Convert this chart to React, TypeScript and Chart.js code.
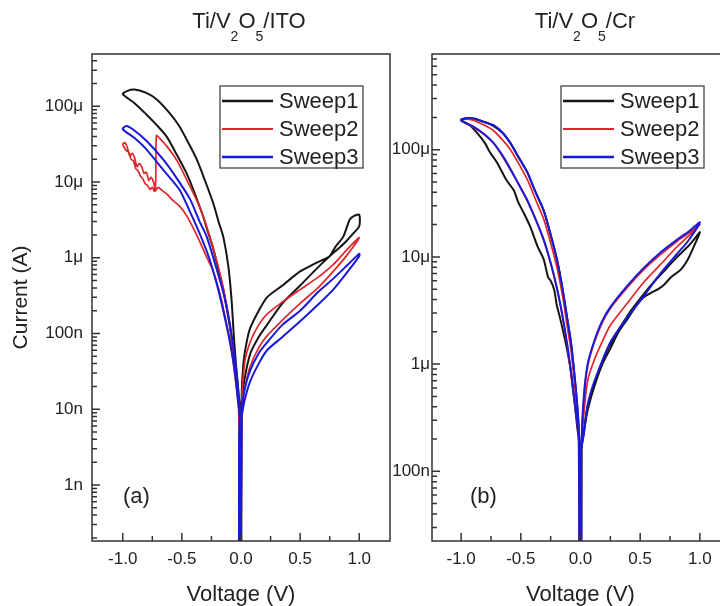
import React, { useEffect, useRef } from "react";
import { Chart, registerables } from "chart.js";

Chart.register(...registerables);

const FONT = "'Liberation Sans', Arial, Helvetica, sans-serif";
const TEXT = "#222222";

// ---------- shared axis data ----------
const seriesLabels = ["Sweep1", "Sweep2", "Sweep3"];
const xTickValues = [-1, -0.5, 0, 0.5, 1];
const xTickLabels = ["-1.0", "-0.5", "0.0", "0.5", "1.0"];
const xMinorValues = [-0.75, -0.25, 0.25, 0.75];

// ---------- panel (a) Ti/V2O5/ITO : [voltage (V), |current| (A)] ----------
const aYTickValues = [1e-9, 1e-8, 1e-7, 1e-6, 1e-5, 1e-4];
const aYTickLabels = ["1n", "10n", "100n", "1μ", "10μ", "100μ"];

const aSweep1: [number, number][] = [
  [-0.014, 1e-11], [-0.012, 4e-9], [-0.01, 1.0e-8], [-0.03, 2.0e-8], [-0.06, 5.0e-8],
  [-0.1, 1.4e-7], [-0.15, 3.8e-7], [-0.2, 8.0e-7], [-0.24, 1.4e-6], [-0.28, 2.2e-6],
  [-0.32, 3.5e-6], [-0.39, 7.0e-6], [-0.46, 1.3e-5], [-0.55, 2.4e-5], [-0.63, 4.0e-5],
  [-0.72, 5.8e-5], [-0.8, 7.8e-5], [-0.9, 1.1e-4], [-1.0, 1.45e-4], [-0.96, 1.6e-4],
  [-0.9, 1.66e-4], [-0.8, 1.5e-4], [-0.71, 1.22e-4], [-0.6, 8.0e-5], [-0.52, 5.4e-5],
  [-0.45, 3.4e-5], [-0.375, 2.0e-5], [-0.3, 1.0e-5], [-0.234, 5.2e-6], [-0.19, 3.0e-6],
  [-0.15, 1.9e-6], [-0.107, 7.7e-7], [-0.08, 2.8e-7], [-0.06, 9e-8], [-0.04, 3.5e-8],
  [-0.02, 1.5e-8], [-0.01, 1.1e-8], [-0.012, 1e-11], [0.002, 1e-11], [0.004, 1.2e-8],
  [0.02, 4.0e-8], [0.05, 8.0e-8], [0.08, 1.2e-7], [0.15, 2.0e-7], [0.22, 3.0e-7],
  [0.35, 4.3e-7], [0.5, 6.6e-7], [0.6, 8.0e-7], [0.7, 9.5e-7], [0.75, 1.05e-6],
  [0.8, 1.4e-6], [0.865, 1.9e-6], [0.92, 3.2e-6], [0.96, 3.6e-6], [1.0, 3.7e-6],
  [1.0, 2.6e-6], [0.95, 2.1e-6], [0.89, 1.65e-6], [0.82, 1.3e-6], [0.75, 1.05e-6],
  [0.67, 8.0e-7], [0.5, 4.3e-7], [0.35, 2.5e-7], [0.22, 1.3e-7], [0.15, 9.0e-8],
  [0.08, 5.5e-8], [0.03, 2.5e-8], [0.006, 1.2e-8], [0.003, 1e-11],
];

const aSweep2: [number, number][] = [
  [-0.006, 1e-11], [-0.008, 5e-9], [-0.012, 1.0e-8], [-0.03, 1.6e-8], [-0.06, 4.5e-8],
  [-0.093, 1.3e-7], [-0.15, 4.0e-7], [-0.205, 9.1e-7], [-0.28, 2.3e-6], [-0.35, 4.7e-6],
  [-0.45, 1.0e-5], [-0.54, 1.9e-5], [-0.63, 3.0e-5], [-0.69, 3.8e-5], [-0.715, 4.1e-5],
  [-0.72, 1.4e-5], [-0.725, 8.0e-6], [-0.74, 1.0e-5], [-0.76, 1.15e-5], [-0.78, 1.05e-5],
  [-0.8, 1.35e-5], [-0.82, 1.3e-5], [-0.84, 1.6e-5], [-0.86, 1.75e-5], [-0.88, 1.6e-5],
  [-0.9, 2.1e-5], [-0.92, 2.4e-5], [-0.94, 2.2e-5], [-0.96, 2.8e-5], [-0.98, 3.3e-5],
  [-1.0, 3.2e-5], [-0.99, 2.9e-5], [-0.97, 2.6e-5], [-0.95, 2.5e-5], [-0.93, 2.0e-5],
  [-0.91, 1.9e-5], [-0.89, 1.5e-5], [-0.87, 1.4e-5], [-0.85, 1.2e-5], [-0.83, 1.1e-5],
  [-0.81, 9.5e-6], [-0.79, 9.0e-6], [-0.77, 8.0e-6], [-0.75, 8.5e-6], [-0.73, 7.5e-6],
  [-0.7, 8.5e-6], [-0.67, 7.8e-6], [-0.63, 7.0e-6], [-0.58, 5.8e-6], [-0.52, 4.8e-6],
  [-0.46, 3.6e-6], [-0.375, 2.0e-6], [-0.3, 1.1e-6], [-0.234, 6.6e-7], [-0.17, 3.0e-7],
  [-0.12, 1.3e-7], [-0.08, 6e-8], [-0.05, 2.6e-8], [-0.02, 1.0e-8], [-0.008, 1e-11],
  [0.0, 1e-11], [0.004, 9e-9], [0.03, 4.0e-8], [0.076, 7.6e-8], [0.15, 1.3e-7],
  [0.22, 1.8e-7], [0.35, 2.6e-7], [0.5, 3.8e-7], [0.65, 5.5e-7], [0.78, 8.1e-7],
  [0.9, 1.3e-6], [1.0, 1.85e-6], [0.9, 1.1e-6], [0.78, 6.6e-7], [0.65, 4.0e-7],
  [0.5, 2.5e-7], [0.35, 1.5e-7], [0.22, 9.3e-8], [0.15, 6.5e-8], [0.076, 3.6e-8],
  [0.03, 1.8e-8], [0.006, 9e-9], [0.002, 1e-11],
];

const aSweep3: [number, number][] = [
  [-0.018, 1e-11], [-0.016, 4e-9], [-0.012, 8e-9], [-0.03, 1.5e-8], [-0.05, 3.0e-8],
  [-0.093, 7.6e-8], [-0.15, 2.0e-7], [-0.205, 4.5e-7], [-0.27, 1.0e-6], [-0.35, 2.1e-6],
  [-0.43, 4.0e-6], [-0.52, 7.9e-6], [-0.65, 1.4e-5], [-0.8, 2.7e-5], [-0.9, 3.8e-5],
  [-1.0, 5.0e-5], [-0.97, 5.5e-5], [-0.91, 4.9e-5], [-0.8, 3.5e-5], [-0.66, 2.0e-5],
  [-0.54, 1.1e-5], [-0.43, 5.9e-6], [-0.35, 3.0e-6], [-0.29, 1.9e-6], [-0.205, 7.0e-7],
  [-0.15, 3.5e-7], [-0.093, 1.3e-7], [-0.05, 4.5e-8], [-0.03, 2.4e-8], [-0.012, 1.0e-8],
  [-0.018, 1e-11], [-0.004, 1e-11], [0.0, 6e-9], [0.006, 8e-9], [0.03, 1.3e-8],
  [0.076, 2.3e-8], [0.15, 4.0e-8], [0.22, 6.0e-8], [0.35, 9.0e-8], [0.5, 1.45e-7],
  [0.65, 2.4e-7], [0.78, 3.8e-7], [0.9, 6.5e-7], [1.0, 1.05e-6], [1.0, 1.13e-6],
  [0.9, 8.0e-7], [0.78, 5.3e-7], [0.65, 3.5e-7], [0.5, 2.0e-7], [0.35, 1.3e-7],
  [0.22, 7.6e-8], [0.15, 5.5e-8], [0.076, 3.2e-8], [0.03, 1.8e-8], [0.006, 1.0e-8],
  [-0.002, 1e-11],
];

// ---------- panel (b) Ti/V2O5/Cr ----------
const bYTickValues = [1e-7, 1e-6, 1e-5, 1e-4];
const bYTickLabels = ["100n", "1μ", "10μ", "100μ"];

const bSweep1: [number, number][] = [
  [0.002, 1e-11], [-0.005, 1.0e-7], [-0.015, 2.0e-7], [-0.028, 2.6e-7], [-0.05, 4.5e-7],
  [-0.084, 9.1e-7], [-0.12, 1.5e-6], [-0.168, 2.6e-6], [-0.2, 3.6e-6], [-0.22, 4.9e-6],
  [-0.25, 6.0e-6], [-0.27, 6.4e-6], [-0.31, 9.6e-6], [-0.36, 1.25e-5], [-0.42, 1.9e-5],
  [-0.47, 2.5e-5], [-0.52, 3.2e-5], [-0.56, 4.2e-5], [-0.62, 5.2e-5], [-0.7, 7.6e-5],
  [-0.76, 9.5e-5], [-0.8, 1.15e-4], [-0.87, 1.45e-4], [-0.93, 1.7e-4], [-1.0, 1.9e-4],
  [-0.95, 1.97e-4], [-0.9, 1.95e-4], [-0.8, 1.8e-4], [-0.727, 1.66e-4], [-0.65, 1.42e-4],
  [-0.587, 1.15e-4], [-0.52, 8.5e-5], [-0.447, 6.2e-5], [-0.38, 4.1e-5], [-0.308, 2.7e-5],
  [-0.25, 1.6e-5], [-0.195, 9.2e-6], [-0.15, 5.0e-6], [-0.112, 2.7e-6], [-0.08, 1.6e-6],
  [-0.056, 9.1e-7], [-0.03, 4.5e-7], [-0.014, 2.3e-7], [0.0, 1e-11], [0.01, 1e-11],
  [0.006, 1.5e-7], [0.025, 2.2e-7], [0.06, 3.7e-7], [0.112, 6.0e-7], [0.18, 9.8e-7],
  [0.25, 1.4e-6], [0.32, 2.0e-6], [0.4, 2.7e-6], [0.475, 3.6e-6], [0.53, 4.2e-6],
  [0.587, 4.6e-6], [0.65, 5.0e-6], [0.7, 5.5e-6], [0.76, 6.5e-6], [0.84, 7.6e-6],
  [0.9, 9.5e-6], [0.95, 1.25e-5], [1.0, 1.7e-5], [0.95, 1.45e-5], [0.9, 1.25e-5],
  [0.81, 1.0e-5], [0.72, 7.8e-6], [0.6, 5.6e-6], [0.53, 4.5e-6], [0.4, 2.9e-6],
  [0.25, 1.55e-6], [0.18, 1.05e-6], [0.112, 6.4e-7], [0.06, 4.0e-7], [0.025, 2.3e-7],
  [0.008, 1.6e-7], [0.005, 1e-11],
];

const bSweep2: [number, number][] = [
  [0.004, 1e-11], [-0.005, 1.2e-7], [-0.015, 2.2e-7], [-0.042, 3.7e-7], [-0.112, 1.5e-6],
  [-0.195, 4.9e-6], [-0.308, 1.42e-5], [-0.447, 3.35e-5], [-0.587, 6.5e-5], [-0.727, 1.14e-4],
  [-0.85, 1.5e-4], [-1.0, 1.88e-4], [-0.95, 1.93e-4], [-0.9, 1.88e-4], [-0.8, 1.68e-4],
  [-0.727, 1.5e-4], [-0.65, 1.22e-4], [-0.587, 1.0e-4], [-0.52, 7.5e-5], [-0.447, 5.3e-5],
  [-0.38, 3.5e-5], [-0.308, 2.25e-5], [-0.25, 1.35e-5], [-0.195, 7.8e-6], [-0.15, 4.3e-6],
  [-0.112, 2.3e-6], [-0.08, 1.35e-6], [-0.056, 7.8e-7], [-0.03, 4.0e-7], [-0.014, 2.2e-7],
  [0.004, 1e-11], [0.006, 1.5e-7], [0.028, 3.4e-7], [0.06, 7.0e-7], [0.112, 1.07e-6],
  [0.18, 1.6e-6], [0.25, 2.3e-6], [0.4, 3.8e-6], [0.53, 5.8e-6], [0.67, 8.5e-6],
  [0.81, 1.25e-5], [0.9, 1.55e-5], [1.0, 2.0e-5], [0.9, 1.65e-5], [0.81, 1.4e-5],
  [0.67, 1.05e-5], [0.53, 7.6e-6], [0.4, 5.3e-6], [0.25, 3.3e-6], [0.18, 2.4e-6],
  [0.112, 1.55e-6], [0.06, 9.5e-7], [0.028, 4.8e-7], [0.008, 1.6e-7], [0.006, 1e-11],
];

const bSweep3: [number, number][] = [
  [0.006, 1e-11], [-0.003, 1.2e-7], [-0.01, 2.0e-7], [-0.042, 3.8e-7], [-0.08, 8.5e-7],
  [-0.112, 1.55e-6], [-0.15, 2.8e-6], [-0.195, 5.0e-6], [-0.25, 8.8e-6], [-0.308, 1.45e-5],
  [-0.38, 2.3e-5], [-0.447, 3.4e-5], [-0.52, 4.8e-5], [-0.587, 6.6e-5], [-0.65, 8.7e-5],
  [-0.727, 1.15e-4], [-0.8, 1.38e-4], [-0.9, 1.65e-4], [-1.0, 1.86e-4], [-0.97, 1.95e-4],
  [-0.93, 1.97e-4], [-0.88, 1.94e-4], [-0.8, 1.8e-4], [-0.727, 1.69e-4], [-0.65, 1.43e-4],
  [-0.587, 1.15e-4], [-0.52, 8.6e-5], [-0.447, 6.2e-5], [-0.38, 4.1e-5], [-0.308, 2.7e-5],
  [-0.25, 1.62e-5], [-0.195, 9.2e-6], [-0.15, 5.0e-6], [-0.112, 2.7e-6], [-0.08, 1.6e-6],
  [-0.056, 9.1e-7], [-0.03, 4.5e-7], [-0.014, 2.3e-7], [0.006, 1e-11], [0.008, 1.6e-7],
  [0.03, 2.3e-7], [0.06, 4.2e-7], [0.112, 6.7e-7], [0.18, 1.05e-6], [0.25, 1.6e-6],
  [0.4, 2.8e-6], [0.53, 4.3e-6], [0.67, 7.0e-6], [0.81, 1.07e-5], [0.9, 1.4e-5],
  [1.0, 2.1e-5], [0.9, 1.7e-5], [0.81, 1.45e-5], [0.67, 1.1e-5], [0.53, 7.9e-6],
  [0.4, 5.5e-6], [0.25, 3.4e-6], [0.18, 2.5e-6], [0.112, 1.6e-6], [0.06, 1.0e-6],
  [0.028, 5.0e-7], [0.008, 1.6e-7], [0.007, 1e-11],
];

// ---------- styles ----------
const seriesColors = ["#151515", "#e0262a", "#1a1ad6"];
const seriesWidths = [2, 1.7, 2];

type PanelCfg = {
  sweeps: [number, number][][];
  xMin: number;
  xMax: number;
  yMin: number;
  yMax: number;
  yTicks: number[];
  yLabels: string[];
  yTitle: string | null;
  yAxisWidth: number;
  yPad: number;
  padRight: number;
  padTop: number;
  xAxisHeight: number;
  panelLabel: string;
  labelDx: number;
  legendDx: number;
};

const framePlugin = {
  id: "frame",
  afterDraw(chart: any, _args: any, opts: any) {
    const { ctx, chartArea: ca } = chart;
    const xs = chart.scales.x;
    const ys = chart.scales.y;
    ctx.save();
    ctx.strokeStyle = "#333333";
    ctx.lineWidth = 1.5;
    ctx.strokeRect(ca.left, ca.top, ca.right - ca.left, ca.bottom - ca.top);
    ctx.lineWidth = 1.5;
    ctx.beginPath();
    xTickValues.forEach((v) => {
      const px = xs.getPixelForValue(v);
      ctx.moveTo(px, ca.bottom);
      ctx.lineTo(px, ca.bottom - 8);
    });
    xMinorValues.forEach((v) => {
      const px = xs.getPixelForValue(v);
      ctx.moveTo(px, ca.bottom);
      ctx.lineTo(px, ca.bottom - 5);
    });
    const lo = Math.floor(Math.log10(ys.min));
    const hi = Math.ceil(Math.log10(ys.max));
    for (let d = lo; d <= hi; d++) {
      for (let k = 1; k <= 9; k++) {
        const v = k * Math.pow(10, d);
        if (v < ys.min || v > ys.max) continue;
        const py = ys.getPixelForValue(v);
        ctx.moveTo(ca.left, py);
        ctx.lineTo(ca.left + (k === 1 ? 8 : 5), py);
      }
    }
    ctx.stroke();

    // legend
    const bx = ca.left + opts.legendDx;
    const by = ca.top + 32;
    const bw = 143;
    const bh = 82;
    ctx.fillStyle = "#ffffff";
    ctx.fillRect(bx, by, bw, bh);
    ctx.strokeStyle = "#444444";
    ctx.lineWidth = 1.3;
    ctx.strokeRect(bx, by, bw, bh);
    const rows = [15, 43, 71];
    chart.data.datasets.forEach((ds: any, i: number) => {
      const ry = by + rows[i];
      ctx.strokeStyle = ds.borderColor;
      ctx.lineWidth = ds.borderWidth + 0.3;
      ctx.beginPath();
      ctx.moveTo(bx + 2, ry);
      ctx.lineTo(bx + 53, ry);
      ctx.stroke();
      ctx.fillStyle = TEXT;
      ctx.font = `22px ${FONT}`;
      ctx.textBaseline = "middle";
      ctx.textAlign = "left";
      ctx.fillText(ds.label, bx + 59, ry + 1);
    });

    // panel label
    ctx.fillStyle = TEXT;
    ctx.font = `22px ${FONT}`;
    ctx.textBaseline = "middle";
    ctx.textAlign = "left";
    ctx.fillText(opts.panelLabel, ca.left + opts.labelDx, 497);
    ctx.restore();
  },
};

function buildChart(canvas: HTMLCanvasElement, cfg: PanelCfg) {
  const datasets = cfg.sweeps.map((sw, k) => ({
    label: seriesLabels[k],
    data: sw.map(([v, i]) => ({ x: v, y: i })),
    showLine: true,
    borderColor: seriesColors[k],
    backgroundColor: seriesColors[k],
    borderWidth: seriesWidths[k],
    pointRadius: 0,
    tension: 0.25,
    fill: false,
    order: 3 - k,
  }));
  return new Chart(canvas, {
    type: "scatter",
    data: { datasets },
    options: {
      animation: false,
      responsive: false,
      events: [],
      layout: { padding: { left: 0, right: cfg.padRight, top: cfg.padTop, bottom: 0 } },
      plugins: {
        legend: { display: false },
        tooltip: { enabled: false },
        title: { display: false },
        frame: { panelLabel: cfg.panelLabel, labelDx: cfg.labelDx, legendDx: cfg.legendDx },
      } as any,
      scales: {
        x: {
          type: "linear",
          position: "bottom",
          min: cfg.xMin,
          max: cfg.xMax,
          grid: { display: false, drawTicks: false },
          border: { display: false },
          afterBuildTicks: (s: any) => {
            s.ticks = xTickValues.map((v) => ({ value: v }));
          },
          afterFit: (s: any) => {
            s.height = cfg.xAxisHeight;
          },
          ticks: {
            autoSkip: false,
            maxRotation: 0,
            padding: 8,
            color: TEXT,
            font: { family: FONT, size: 17 },
            callback: (_v: any, i: number) => xTickLabels[i],
          },
          title: {
            display: true,
            text: "Voltage (V)",
            color: TEXT,
            font: { family: FONT, size: 22, lineHeight: 1 },
            padding: { top: 0, bottom: 0 },
          },
        },
        y: {
          type: "logarithmic",
          position: "left",
          min: cfg.yMin,
          max: cfg.yMax,
          grid: { display: false, drawTicks: false },
          border: { display: false },
          afterBuildTicks: (s: any) => {
            s.ticks = cfg.yTicks.map((v) => ({ value: v }));
          },
          afterFit: (s: any) => {
            s.width = cfg.yAxisWidth;
          },
          ticks: {
            autoSkip: false,
            padding: cfg.yPad,
            color: TEXT,
            font: { family: FONT, size: 17 },
            callback: (_v: any, i: number) => cfg.yLabels[i],
          },
          title: cfg.yTitle
            ? {
                display: true,
                text: cfg.yTitle,
                color: TEXT,
                font: { family: FONT, size: 21, lineHeight: 1 },
                padding: { top: 11, bottom: 0 },
              }
            : { display: false },
        },
      } as any,
    },
    plugins: [framePlugin as any],
  });
}

const panelA: PanelCfg = {
  sweeps: [aSweep1, aSweep2, aSweep3],
  xMin: -1.26,
  xMax: 1.26,
  yMin: 1.82e-10,
  yMax: 4.9e-4,
  yTicks: aYTickValues,
  yLabels: aYTickLabels,
  yTitle: "Current (A)",
  yAxisWidth: 92,
  yPad: 9,
  padRight: 10,
  padTop: 54,
  xAxisHeight: 65,
  panelLabel: "(a)",
  labelDx: 31,
  legendDx: 128,
};

const panelB: PanelCfg = {
  sweeps: [bSweep1, bSweep2, bSweep3],
  xMin: -1.244,
  xMax: 1.244,
  yMin: 2.24e-8,
  yMax: 7.8e-4,
  yTicks: bYTickValues,
  yLabels: bYTickLabels,
  yTitle: null,
  yAxisWidth: 52,
  yPad: 2,
  padRight: 11,
  padTop: 54,
  xAxisHeight: 65,
  panelLabel: "(b)",
  labelDx: 38,
  legendDx: 129,
};

function Panel({ cfg, left, width }: { cfg: PanelCfg; left: number; width: number }) {
  const ref = useRef<HTMLCanvasElement | null>(null);
  useEffect(() => {
    if (!ref.current) return;
    const chart = buildChart(ref.current, cfg);
    return () => chart.destroy();
  }, [cfg]);
  return (
    <canvas
      ref={ref}
      width={width}
      height={606}
      style={{ position: "absolute", left, top: 0, width, height: 606 }}
    />
  );
}

const subStyle: React.CSSProperties = { fontSize: 14, position: "relative", top: 13 };

function Title({ center, tail }: { center: number; tail: string }) {
  return (
    <div
      style={{
        position: "absolute",
        left: center - 100,
        top: 10,
        width: 200,
        textAlign: "center",
        fontFamily: FONT,
        fontSize: 22,
        lineHeight: "22px",
        color: TEXT,
        whiteSpace: "nowrap",
      }}
    >
      Ti/V<span style={subStyle}>2</span>O<span style={subStyle}>5</span>/{tail}
    </div>
  );
}

export default function App() {
  return (
    <div
      style={{
        position: "absolute",
        left: 0,
        top: 0,
        width: 720,
        height: 606,
        overflow: "hidden",
        background: "#ffffff",
      }}
    >
      <Panel cfg={panelA} left={0} width={400} />
      <Panel cfg={panelB} left={380} width={360} />
      <Title center={249} tail="ITO" />
      <Title center={585} tail="Cr" />
    </div>
  );
}
